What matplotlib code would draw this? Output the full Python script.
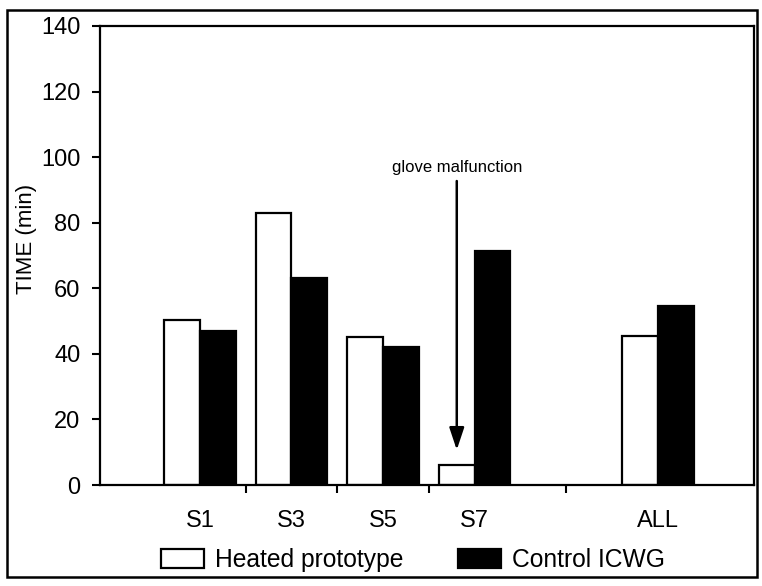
import numpy as np
import matplotlib
matplotlib.use('Agg')
import matplotlib.pyplot as plt
from matplotlib.patches import Rectangle

plt.rcParams['font.family'] = ['Liberation Sans', 'DejaVu Sans']

# Data
subjects = ['S1', 'S3', 'S5', 'S7', 'ALL']
slots = [0, 1, 2, 3, 5]          # ALL sits one empty slot after S7
heated = [50.3, 83.0, 45.1, 6.1, 45.4]
control = [47.0, 63.2, 42.1, 71.4, 54.6]
yticks = [0, 20, 40, 60, 80, 100, 120, 140]

fig = plt.figure(figsize=(7.62, 5.86), dpi=100)
ax = fig.add_axes([100 / 762, 1 - 485 / 586, 654 / 762, 459 / 586])

x = np.array(slots, dtype=float)
bw = 0.39
ax.bar(x - bw / 2, heated, bw, color='white', edgecolor='black', linewidth=1.6,
       label='Heated prototype')
ax.bar(x + bw / 2, control, bw, color='black', edgecolor='black', linewidth=1.6,
       label='Control ICWG')

ax.set_xlim(-1.09, 6.05)
ax.set_ylim(0, 140)
ax.set_yticks(yticks)
ax.tick_params(axis='y', labelsize=17, length=6, width=1.5, pad=8)

ax.set_xticks(x)
ax.set_xticklabels(subjects, fontsize=17)
ax.tick_params(axis='x', which='major', length=0, pad=18)
ax.set_xticks([0.5, 1.5, 2.5, 4.0], minor=True)
ax.tick_params(axis='x', which='minor', length=6, width=1.5, direction='out')

for sp in ax.spines.values():
    sp.set_linewidth(1.6)

ax.set_ylabel('TIME (min)', fontsize=16)
ax.yaxis.set_label_coords(-0.097, 0.535)

# annotation for the faulty S7 run
arrow_x = x[3] - bw / 2
ax.annotate('glove malfunction', xy=(arrow_x, 10.7), xytext=(arrow_x, 96.7),
            ha='center', va='center', fontsize=12,
            arrowprops=dict(arrowstyle='-|>,head_length=0.9,head_width=0.3',
                            mutation_scale=15, lw=1.8, color='black',
                            shrinkA=2, shrinkB=0))

fig.legend(loc='center left', bbox_to_anchor=(161 / 762, 1 - 560 / 586),
           ncol=2, frameon=False, fontsize=17.7, handlelength=1.75,
           handleheight=0.76, handletextpad=0.45, columnspacing=2.2,
           borderpad=0, borderaxespad=0)

# outer frame around the whole figure
fig.patches.append(Rectangle((7 / 762, 1 - 577 / 586), 750 / 762, 567 / 586,
                             transform=fig.transFigure, fill=False,
                             edgecolor='black', linewidth=1.8))

fig.savefig('out.png', dpi=100)
